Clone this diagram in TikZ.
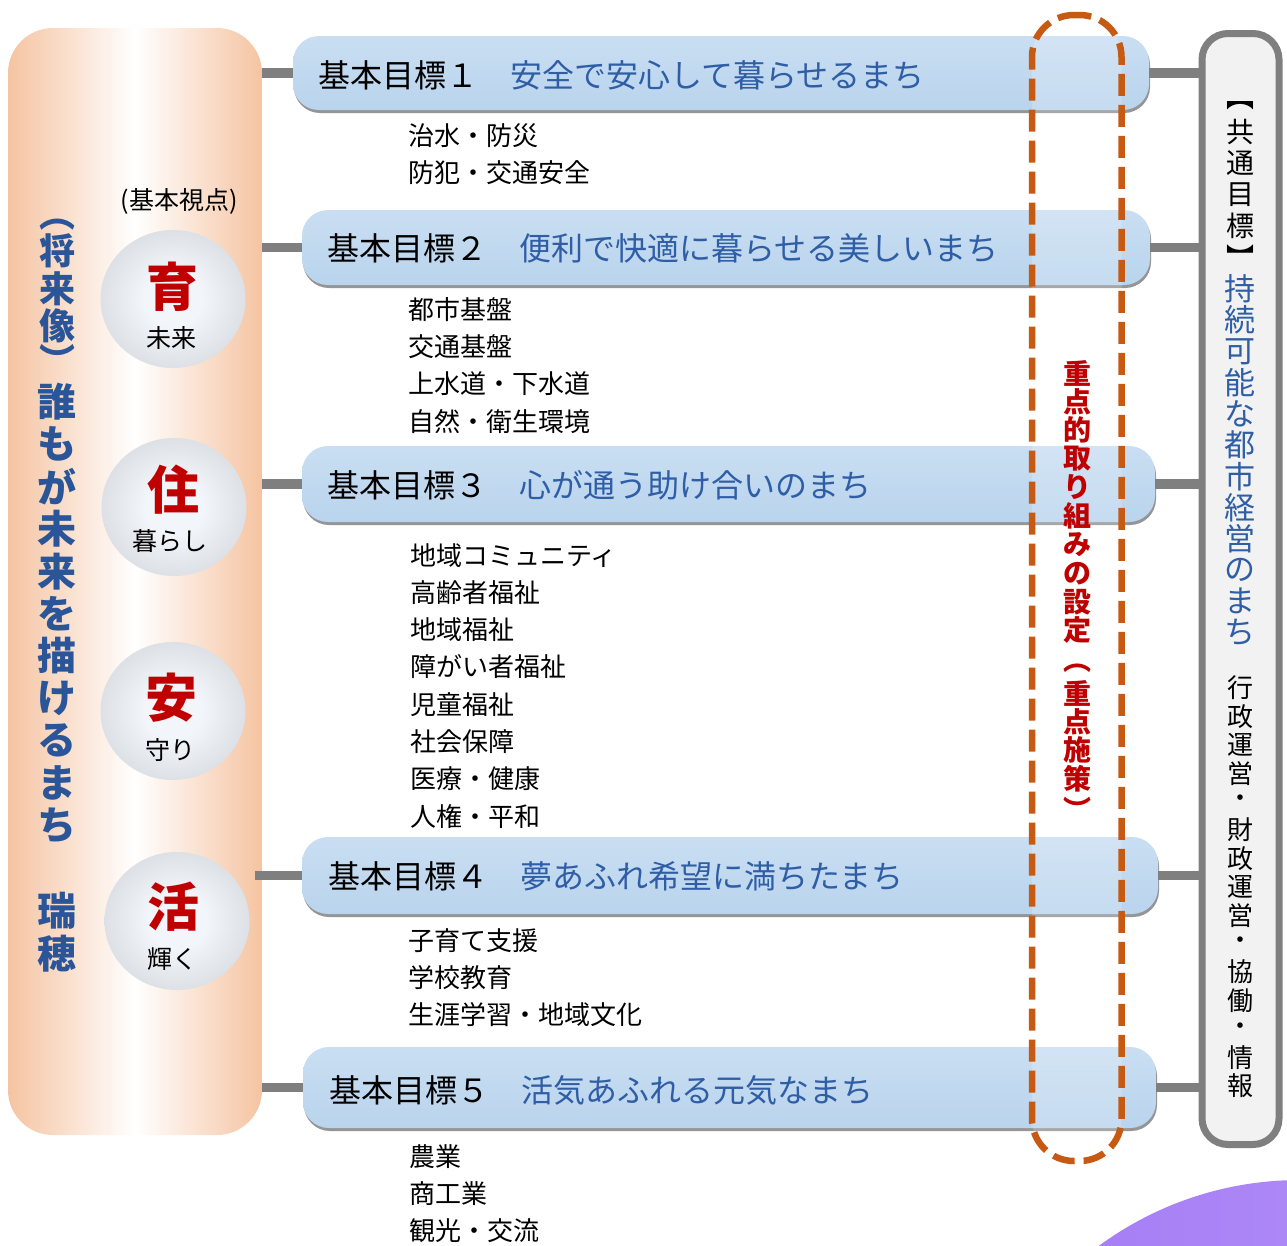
\documentclass[tikz,border=0pt]{standalone}
\usepackage{fontspec}
\setmainfont{Noto Sans CJK JP}
\usetikzlibrary{shapes.geometric,shadows}
\definecolor{leftblue}{HTML}{2A5598}
\definecolor{goalblue}{HTML}{2F5EA6}
\definecolor{kanjired}{HTML}{C00000}
\definecolor{conngray}{HTML}{7F7F7F}
\definecolor{barTop}{HTML}{C9DEF2}
\definecolor{barBot}{HTML}{B9D4ED}
\definecolor{barShadow}{HTML}{7A7A7A}
\definecolor{peach}{HTML}{F5C4A2}
\definecolor{dashorange}{HTML}{C65A12}
\definecolor{panelfill}{HTML}{F2F2F2}
\definecolor{pearlc}{HTML}{F2F5F9}
\definecolor{pearlm}{HTML}{D3D7DD}
\definecolor{pearle}{HTML}{AEB2B9}
\definecolor{violetA}{HTML}{A479F7}
\definecolor{violetB}{HTML}{B596F4}
\pgfdeclareradialshading{pearl}{\pgfpointorigin}{color(0bp)=(pearlc); color(10bp)=(pearlc); color(32bp)=(pearlm); color(50bp)=(pearle)}
\newcommand\vstack[6]{\foreach \ch [count=\i from 0] in {#6} {\node[#5] (#1\i) at (#2,{#3+\i*#4}) {\ch};}}
\begin{document}
\begin{tikzpicture}[x=1pt,y=-1pt,
  conn/.style={draw=conngray, line width=9.5pt},
  goalbar/.style={rounded corners=26pt, top color=barTop, bottom color=barBot, draw=none, inner sep=0,
    drop shadow={shadow xshift=1pt, shadow yshift=-3pt, opacity=0.8, fill=barShadow}},
  gtitle/.style={anchor=west, inner sep=0, font=\fontsize{32}{38}\selectfont},
  items/.style={anchor=north west, inner sep=0, align=left, font=\fontsize{26}{37.3}\selectfont},
  pearlball/.style={ellipse, shade, shading=pearl, minimum width=145pt, minimum height=138pt, inner sep=0},
  bigkanji/.style={inner sep=0, text=kanjired, font=\fontsize{52}{52}\selectfont\bfseries},
  subkanji/.style={inner sep=0, font=\fontsize{25}{25}\selectfont},
  vleft/.style={inner sep=0, text=leftblue, font=\fontsize{39}{39}\selectfont\bfseries},
  vleftsm/.style={inner sep=0, text=leftblue, font=\fontsize{36}{36}\selectfont\bfseries},
  vred/.style={inner sep=0, text=kanjired, font=\fontsize{28}{28}\selectfont\bfseries},
  vblack/.style={inner sep=0, font=\fontsize{28}{28}\selectfont},
  vrblue/.style={inner sep=0, text=goalblue, font=\fontsize{31}{31}\selectfont},
  vsmall/.style={inner sep=0, font=\fontsize{26}{26}\selectfont}]
\useasboundingbox (0,0) rectangle (1287,1245);
% violet corner disc
\begin{scope}
\clip (0,0) rectangle (1287,1245);
\shade[left color=violetA, right color=violetB] (1300,1520) circle (340pt);
\end{scope}
% left panel
\node[shade, left color=peach, right color=peach, middle color=white, rounded corners=45pt,
  minimum width=254pt, minimum height=1107pt, inner sep=0] (panel) at (135,581.5) {};
\node[inner sep=0, font=\fontsize{25}{25}\selectfont] (kv) at (179,201) {(基本視点)};
% viewpoint balls
\node[pearlball] (c1) at (173,299) {};
\node[pearlball] (c2) at (174,507) {};
\node[pearlball] (c3) at (173,711) {};
\node[pearlball] (c4) at (177,921) {};
\node[bigkanji] (k1) at (172,287) {育};
\node[subkanji] (s1) at (171,338) {未来};
\node[bigkanji] (k2) at (173,490) {住};
\node[subkanji] (s2) at (170,541) {暮らし};
\node[bigkanji] (k3) at (171,698) {安};
\node[subkanji] (s3) at (170,750) {守り};
\node[bigkanji] (k4) at (173,907) {活};
\node[subkanji] (s4) at (172,959) {輝く};
% goal bars
\node[goalbar, minimum width=856pt, minimum height=74pt] (g1) at (721,73) {};
\node[goalbar, minimum width=848pt, minimum height=75pt] (g2) at (726,247.5) {};
\node[goalbar, minimum width=853pt, minimum height=76pt] (g3) at (728.5,484) {};
\node[goalbar, minimum width=856pt, minimum height=77pt] (g4) at (730,875.5) {};
\node[goalbar, minimum width=853pt, minimum height=81pt] (g5) at (729.5,1087.5) {};
\node[gtitle] (t1) at (318,75) {基本目標１　\textcolor{goalblue}{安全で安心して暮らせるまち}};
\node[gtitle] (t2) at (327,248) {基本目標２　\textcolor{goalblue}{便利で快適に暮らせる美しいまち}};
\node[gtitle] (t3) at (327,485) {基本目標３　\textcolor{goalblue}{心が通う助け合いのまち}};
\node[gtitle] (t4) at (328,876) {基本目標４　\textcolor{goalblue}{夢あふれ希望に満ちたまち}};
\node[gtitle] (t5) at (329,1090) {基本目標５　\textcolor{goalblue}{活気あふれる元気なまち}};
% item lists
\node[items] (i1) at (408,123) {治水・防災\\防犯・交通安全};
\node[items] (i2) at (408,297) {都市基盤\\交通基盤\\上水道・下水道\\自然・衛生環境};
\node[items] (i3) at (410,543) {地域コミュニティ\\高齢者福祉\\地域福祉\\障がい者福祉\\児童福祉\\社会保障\\医療・健康\\人権・平和};
\node[items] (i4) at (408,928) {子育て支援\\学校教育\\生涯学習・地域文化};
\node[items] (i5) at (409,1144) {農業\\商工業\\観光・交流};
% focus (dashed)
\node[draw=dashorange, line width=6.5pt, dash pattern=on 22pt off 9pt, rounded corners=42pt,
  minimum width=89.5pt, minimum height=1146pt, inner sep=0, fill=white, fill opacity=0.18] (focus) at (1076.75,588) {};
% right panel
\node[draw=conngray, line width=7pt, fill=panelfill, rounded corners=26pt,
  minimum width=77pt, minimum height=1111pt, inner sep=0] (rp) at (1240.5,589) {};
% connectors
\foreach \g in {g1,g2,g3,g5} {\draw[conn] (panel.east |- \g.west) -- (\g.west);}
\draw[conn] ([xshift=5pt]c4.east |- g4.west) -- (g4.west);
\foreach \g in {g1,g2,g3,g4,g5} {\draw[conn] (\g.east) -- (rp.west |- \g.east);}
% vertical texts
\node[vleftsm] (lpo) at (57,225) {︵};
\vstack{lpa}{57}{251}{37.5}{vleftsm}{将,来,像}
\node[vleftsm] (lpc) at (57,359) {︶};
\vstack{lb}{57}{402}{42.3}{vleft}{誰,も,が,未,来,を,描,け,る,ま,ち}
\vstack{lc}{57}{911}{42.5}{vleft}{瑞,穂}
\vstack{rd}{1077}{373}{28.6}{vred}{重,点,的,取,り,組,み,の,設,定}
\node[vred] (rdo) at (1077,668) {︵};
\vstack{re}{1077}{693}{28.6}{vred}{重,点,施,策}
\node[vred] (rdc) at (1077,809) {︶};
\node[vblack] (rbo) at (1240,106) {︻};
\vstack{rb}{1240}{132}{31.3}{vblack}{共,通,目,標}
\node[vblack] (rbc) at (1240,257) {︼};
\vstack{rc}{1240}{289}{31.2}{vrblue}{持,続,可,能,な,都,市,経,営,の,ま,ち}
\vstack{rk}{1240}{688}{28.4}{vsmall}{行,政,運,営,・,財,政,運,営,・,協,働,・,情,報}
\end{tikzpicture}
\end{document}
